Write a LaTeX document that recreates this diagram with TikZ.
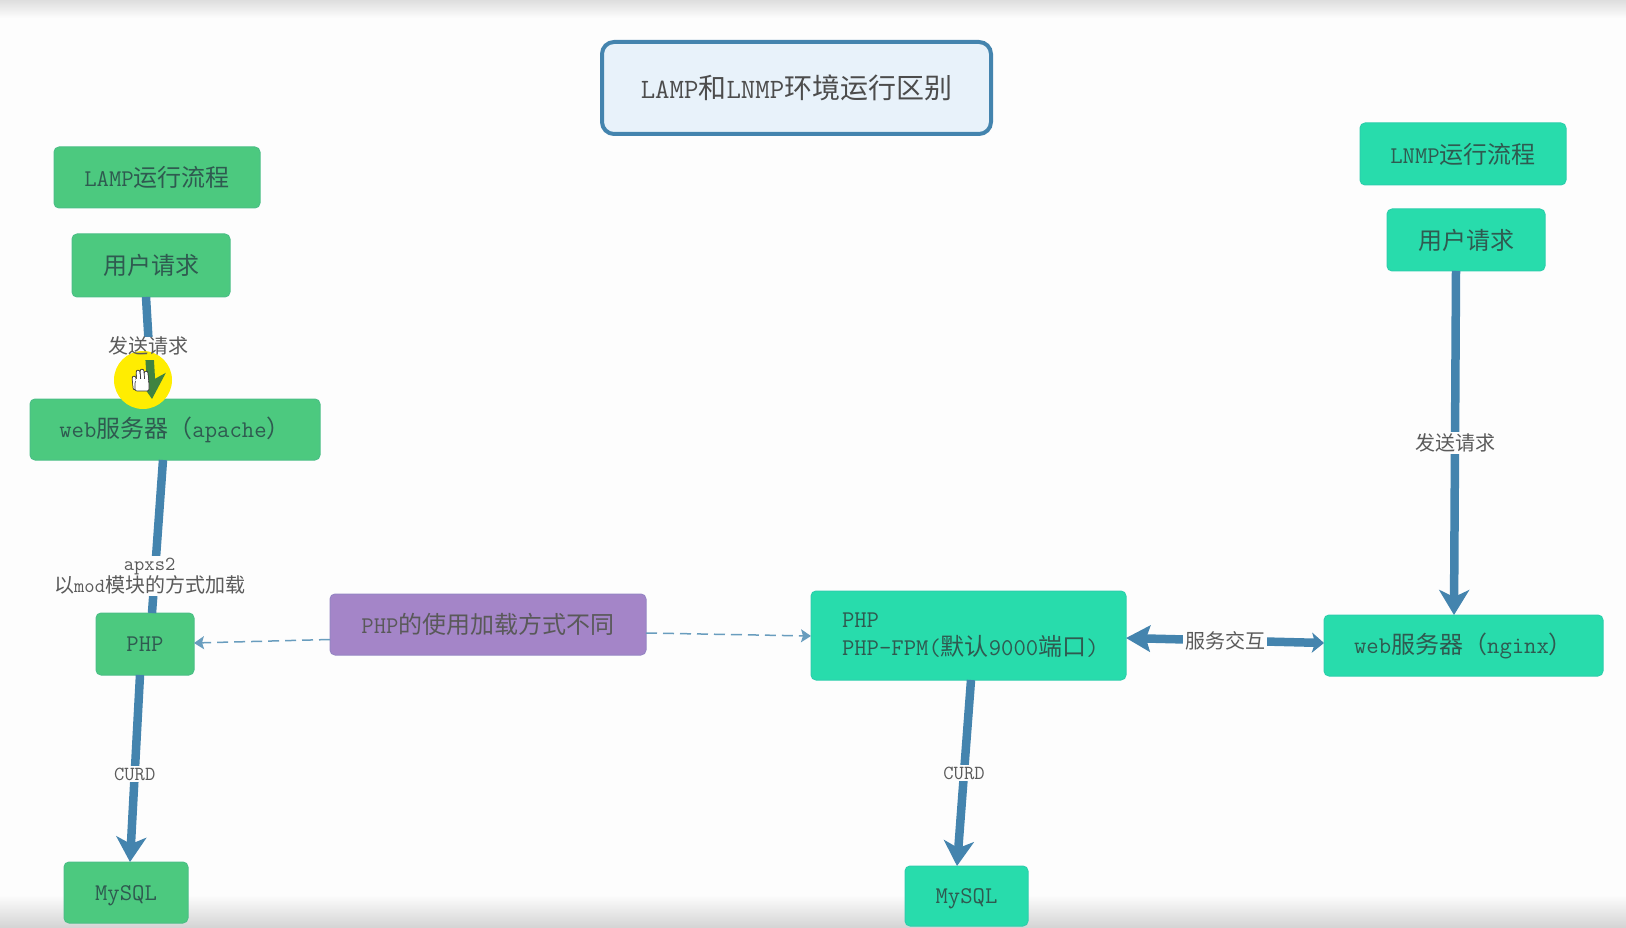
\documentclass[tikz,border=0pt]{standalone}
\usepackage{fontspec}
\newfontfamily\cjk{Noto Sans CJK SC}
\setmainfont{Latin Modern Mono}
\usetikzlibrary{arrows.meta}
\definecolor{lampgreen}{HTML}{4CC97F}
\definecolor{lnmpteal}{HTML}{28DCAC}
\definecolor{notepurple}{HTML}{A485C8}
\definecolor{linkblue}{HTML}{4484AE}
\definecolor{titlefill}{HTML}{E8F2FA}
\definecolor{boxtext}{HTML}{2F5A50}
\definecolor{labeltext}{HTML}{5A5A5A}
\definecolor{pagewhite}{HTML}{FDFDFD}
\begin{document}
\begin{tikzpicture}[x=1pt,y=-1pt,inner sep=0pt,outer sep=0pt,
flowblock/.style={draw=#1!85!linkblue,fill=#1,rounded corners=5pt,line width=1pt,text=boxtext,font=\fontsize{24}{28}\selectfont},
notelabel/.style={text=labeltext,align=center,font=\fontsize{20}{22}\selectfont},
edgelabel/.style={notelabel,fill=pagewhite,inner sep=2pt},
bigflow/.style={draw=linkblue,line width=8.5pt,-{Stealth[length=25pt,width=30pt,inset=7pt]}},
plainflow/.style={draw=linkblue,line width=8.5pt},
dashflow/.style={draw=linkblue!80!white,line width=1.5pt,dash pattern=on 11pt off 6pt,-{Stealth[length=10pt,width=13pt,inset=2pt]}}]
\useasboundingbox (0,0) rectangle (1626,928);
\fill[pagewhite] (0,0) rectangle (1626,928);
\shade[top color=black!13,bottom color=pagewhite] (0,0) rectangle (1626,18);
\shade[top color=pagewhite,bottom color=black!17] (0,895) rectangle (1626,928);
% title
\draw (796.5,88) node[draw=linkblue,fill=titlefill,line width=4pt,rounded corners=12pt,minimum width=389pt,minimum height=92pt,text=black!70,font=\fontsize{28}{32}\selectfont] (title) {LAMP{\cjk 和}LNMP{\cjk 环境运行区别}};
% LAMP side
\draw (157,177.5) node[flowblock=lampgreen,minimum width=206pt,minimum height=61pt] (lampname) {LAMP{\cjk 运行流程}};
\draw (151,265.5) node[flowblock=lampgreen,minimum width=158pt,minimum height=63pt] (lampuser) {\cjk 用户请求};
\draw (175,429.5) node[flowblock=lampgreen,minimum width=290pt,minimum height=61pt] (apache) {web{\cjk 服务器（}apache{\cjk ）}};
\draw (145,644) node[flowblock=lampgreen,minimum width=98pt,minimum height=62pt] (lampphp) {PHP};
\draw (126,892.5) node[flowblock=lampgreen,minimum width=124pt,minimum height=61pt,text height=20pt,text depth=4.5pt] (lampmysql) {MySQL};
% middle note
\draw (488,624.5) node[flowblock=notepurple,minimum width=316pt,minimum height=61pt,text=black!65] (usage) {PHP{\cjk 的使用加载方式不同}};
% LNMP side
\draw (1463,154) node[flowblock=lnmpteal,minimum width=206pt,minimum height=62pt] (lnmpname) {LNMP{\cjk 运行流程}};
\draw (1466,240) node[flowblock=lnmpteal,minimum width=158pt,minimum height=62pt] (lnmpuser) {\cjk 用户请求};
\draw (1463.5,645.5) node[flowblock=lnmpteal,minimum width=279pt,minimum height=61pt] (nginx) {web{\cjk 服务器（}nginx{\cjk ）}};
\draw (968.5,635.5) node[flowblock=lnmpteal,minimum width=315pt,minimum height=89pt,text width=253pt,align=left] (fpm) {PHP\\\mbox{PHP-FPM({\cjk 默认}9000{\cjk 端口})}};
\draw (966.5,896) node[flowblock=lnmpteal,minimum width=123pt,minimum height=60pt,text height=20pt,text depth=4.5pt] (lnmpmysql) {MySQL};
% LAMP links
\draw[bigflow] ([xshift=-5pt]lampuser.south) -- ([xshift=-23pt]apache.north);
\fill[pagewhite] (108,337) rectangle (190,360);
\fill[yellow!95!orange] (143,380) circle (29pt);
\begin{scope}
\clip (143,380) circle (29pt);
\clip (100,360) rectangle (200,420);
\draw[bigflow,draw=green!35!black!75!white] ([xshift=-5pt]lampuser.south) -- ([xshift=-23pt]apache.north);
\end{scope}
\node[notelabel] (lampsend) at (148,346) {\cjk 发送请求};
% hand cursor
\foreach \fx/\fy in {134/378,138/372,142/371,146/373} {
\draw[black!80,line width=4.5pt,line cap=round] (\fx,\fy) -- (\fx+1,\fy+10);
\draw[white,line width=3pt,line cap=round] (\fx,\fy) -- (\fx+1,\fy+10);
}
\fill[white,draw=black!80,line width=.6pt,rounded corners=2pt] (135,381) rectangle (149,391);
\fill[white] (136,379) rectangle (148,388);
\draw[plainflow] ([xshift=-12pt]apache.south) -- node[pos=.76,edgelabel,xshift=-5pt] (apxs) {apxs2\\{\cjk 以}mod{\cjk 模块的方式加载}} ([xshift=7pt]lampphp.north);
\draw[bigflow] ([xshift=-5pt]lampphp.south) -- node[pos=.53,edgelabel] (lampcurd) {CURD} ([xshift=4pt]lampmysql.north);
% note links
\draw[dashflow] ([yshift=-15pt]usage.west) -- ([yshift=1pt]lampphp.east);
\draw[dashflow] ([yshift=-8.5pt]usage.east) -- ([yshift=-0.5pt]fpm.west);
% LNMP links
\draw[bigflow] ([xshift=-10pt]lnmpuser.south) -- node[pos=.5,edgelabel] (lnmpsend) {\cjk 发送请求} ([xshift=-9.5pt]nginx.north);
\draw[plainflow,{Stealth[length=24pt,width=26pt,inset=4pt]}-{Stealth[length=12pt,width=20pt,inset=3pt]}] ([yshift=-2.5pt]fpm.east) -- node[pos=.5,edgelabel] (mutual) {\cjk 服务交互} ([yshift=2.5pt]nginx.west);
\draw[bigflow] ([xshift=2.5pt]fpm.south) -- node[pos=.5,edgelabel] (lnmpcurd) {CURD} ([xshift=-9.5pt]lnmpmysql.north);
\end{tikzpicture}
\end{document}
